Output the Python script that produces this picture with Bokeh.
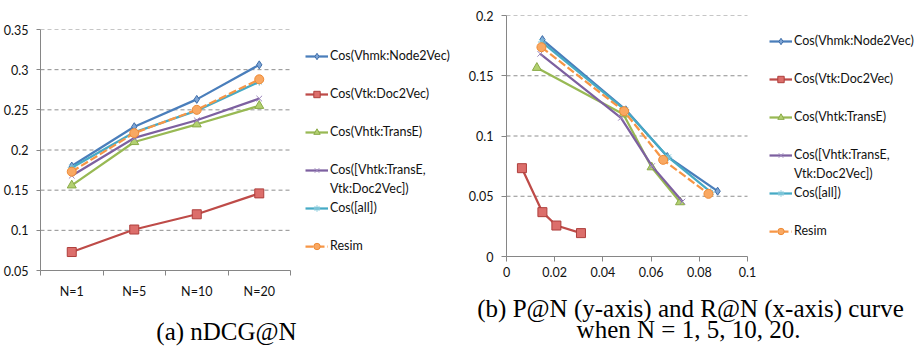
from bokeh.plotting import figure
from bokeh.models import Range1d, FixedTicker, Legend, LegendItem, Label
from bokeh.layouts import row, column
from bokeh.embed import file_html
from bokeh.resources import INLINE

# ---------------- data ----------------
categories = ["N=1", "N=5", "N=10", "N=20"]
series_names = ["Cos(Vhmk:Node2Vec)", "Cos(Vtk:Doc2Vec)", "Cos(Vhtk:TransE)",
                "Cos([Vhtk:TransE,\nVtk:Doc2Vec])", "Cos([all])", "Resim"]

ndcg_node2vec = [0.180, 0.229, 0.263, 0.306]
ndcg_doc2vec = [0.073, 0.101, 0.120, 0.146]
ndcg_transe = [0.156, 0.210, 0.232, 0.255]
ndcg_combo = [0.168, 0.215, 0.237, 0.264]
ndcg_all = [0.178, 0.222, 0.249, 0.285]
ndcg_resim = [0.173, 0.221, 0.250, 0.288]

recall_node2vec = [0.0149, 0.0495, 0.0667, 0.0876]
prec_node2vec = [0.1800, 0.1217, 0.0830, 0.0542]
recall_doc2vec = [0.0064, 0.0149, 0.0207, 0.0309]
prec_doc2vec = [0.0733, 0.0368, 0.0257, 0.0194]
recall_transe = [0.0126, 0.0485, 0.0602, 0.0720]
prec_transe = [0.1566, 0.1180, 0.0741, 0.0451]
recall_combo = [0.0140, 0.0475, 0.0604, 0.0730]
prec_combo = [0.1682, 0.1151, 0.0750, 0.0456]
recall_all = [0.0147, 0.0493, 0.0671, 0.0848]
prec_all = [0.1780, 0.1215, 0.0824, 0.0534]
recall_resim = [0.0145, 0.0488, 0.0650, 0.0838]
prec_resim = [0.1737, 0.1206, 0.0802, 0.0520]

ndcg_ticks = [0.05, 0.1, 0.15, 0.2, 0.25, 0.3, 0.35]
ndcg_tick_labels = ["0.05", "0.1", "0.15", "0.2", "0.25", "0.3", "0.35"]
p_ticks = [0, 0.05, 0.1, 0.15, 0.2]
p_tick_labels = ["0", "0.05", "0.1", "0.15", "0.2"]
r_ticks = [0, 0.02, 0.04, 0.06, 0.08, 0.1]
r_tick_labels = ["0", "0.02", "0.04", "0.06", "0.08", "0.1"]

caption_a = "(a) nDCG@N"
caption_b1 = "(b) P@N (y-axis) and R@N (x-axis) curve"
caption_b2 = "when N = 1, 5, 10, 20."

# ---------------- layout / styles ----------------
FONT = "Lato"
SERIF = "Liberation Serif"
AXIS_GREY = "#868686"
GRID_GREY = "#8E8E8E"
PLOT_W_A = 250      # width of the charted area of (a), px
PLOT_W_B = 241      # width of the charted area of (b), px
FRAME_W_A = 425     # frame incl. legend area
FRAME_W_B = 408
FRAME_H = 241
STYLES = [
    dict(color="#4A7EBB", marker="diamond", size=8, fill="#7EA5D6", mline="#3E6DA8", dash="solid"),
    dict(color="#BE4B48", marker="square", size=9, fill="#DC6E6B", mline="#AE3F3C", dash="solid"),
    dict(color="#98B954", marker="triangle", size=9, fill="#B2D070", mline="#8AAA48", dash="solid"),
    dict(color="#7D60A0", marker="x", size=8, fill="#9C86BC", mline="#9C86BC", dash="solid"),
    dict(color="#46AAC5", marker="asterisk", size=8, fill="#79C4D8", mline="#79C4D8", dash="solid"),
    dict(color="#F79646", marker="circle", size=9, fill="#F9A862", mline="#EE8B36", dash="8 3"),
]


def style_axis(ax, tick_out=5, standoff=8):
    ax.axis_line_color = AXIS_GREY
    ax.axis_line_width = 1
    ax.major_tick_line_color = AXIS_GREY
    ax.major_tick_in = 0
    ax.major_tick_out = tick_out
    ax.minor_tick_line_color = None
    ax.major_label_text_font = FONT
    ax.major_label_text_font_size = "12.5px"
    ax.major_label_text_color = "#111111"
    ax.major_label_standoff = standoff


def style_fig(p, ticks, x_end):
    p.outline_line_color = None
    p.xgrid.visible = False
    p.ygrid.visible = False
    p.background_fill_color = "white"
    p.border_fill_color = "white"
    # dashed horizontal gridlines over the charted area only
    gy = ticks[1:]
    p.segment(x0=[p.x_range.start] * len(gy), y0=gy, x1=[x_end] * len(gy), y1=gy,
              line_color=GRID_GREY, line_dash="4 3", line_width=1)


def add_series(p, xs_list, ys_list):
    """Draw every series and build legend rows (one text line per row, blank rows between)."""
    items = []
    blank = p.line([], [], line_alpha=0)  # invisible stand-in for text-only legend rows
    for k, (name, xs, ys, st) in enumerate(zip(series_names, xs_list, ys_list, STYLES)):
        lr = p.line(xs, ys, line_color=st["color"], line_width=2.25, line_dash=st["dash"])
        sr = p.scatter(xs, ys, marker=st["marker"], size=st["size"], fill_color=st["fill"],
                       line_color=st["mline"], line_width=1)
        lines = name.split("\n")
        items.append(LegendItem(label=lines[0], renderers=[lr, sr]))
        for extra in lines[1:]:
            items.append(LegendItem(label=extra, renderers=[blank]))
        if len(lines) == 1 and k < len(series_names) - 1:
            items.append(LegendItem(label=" ", renderers=[blank]))
    return items


def make_legend(items, loc):
    return Legend(items=items, location=loc, margin=0, padding=0, spacing=0,
                  label_height=19, glyph_width=23, glyph_height=16, label_standoff=2,
                  border_line_color=None, background_fill_alpha=0,
                  label_text_font=FONT, label_text_font_size="12.5px",
                  label_text_color="#111111")


def caption_fig(width, height, specs):
    c = figure(width=width, height=height, x_axis_type=None, y_axis_type=None,
               output_backend="svg", toolbar_location=None, min_border=0,
               min_border_left=0, min_border_right=0, min_border_top=0, min_border_bottom=0)
    c.outline_line_color = None
    c.grid.visible = False
    c.background_fill_color = "white"
    c.border_fill_color = "white"
    for text, x, y in specs:
        c.add_layout(Label(x=x, y=y, x_units="screen", y_units="screen", text=text,
                           text_align="center", text_baseline="middle", text_font=SERIF,
                           text_font_size="25px", text_color="#000000"))
    return c


# ---------------- (a) nDCG@N ----------------
n_cat = len(categories)
xs_cat = [i + 0.5 for i in range(n_cat)]
p1 = figure(frame_width=FRAME_W_A, frame_height=FRAME_H,
            x_range=Range1d(0, n_cat * FRAME_W_A / PLOT_W_A),
            y_range=Range1d(ndcg_ticks[0], ndcg_ticks[-1]),
            output_backend="svg", toolbar_location=None,
            min_border_left=37, min_border_right=0, min_border_top=29, min_border_bottom=30)
style_fig(p1, ndcg_ticks, n_cat)
style_axis(p1.yaxis[0], tick_out=4, standoff=8)
p1.yaxis.ticker = FixedTicker(ticks=ndcg_ticks)
p1.yaxis.major_label_overrides = dict(zip(ndcg_ticks, ndcg_tick_labels))
style_axis(p1.xaxis[0], tick_out=0, standoff=8)
p1.xaxis.bounds = (0, n_cat)
p1.xaxis.ticker = FixedTicker(ticks=xs_cat, minor_ticks=list(range(n_cat + 1)))
p1.xaxis.major_label_overrides = dict(zip(xs_cat, categories))
p1.xaxis.major_tick_line_color = None
p1.xaxis.minor_tick_line_color = AXIS_GREY
p1.xaxis.minor_tick_in = 0
p1.xaxis.minor_tick_out = 5

items1 = add_series(p1, [xs_cat] * 6,
                    [ndcg_node2vec, ndcg_doc2vec, ndcg_transe, ndcg_combo, ndcg_all, ndcg_resim])
p1.add_layout(make_legend(items1, (265, 15)))
# caption sits in its own row so its frame is not aligned to the chart's frame
cap1 = caption_fig(462, 45, [(caption_a, 226, 15)])

# ---------------- (b) P@N vs R@N ----------------
p2 = figure(frame_width=FRAME_W_B, frame_height=FRAME_H,
            x_range=Range1d(r_ticks[0], r_ticks[-1] * FRAME_W_B / PLOT_W_B),
            y_range=Range1d(p_ticks[0], p_ticks[-1]),
            output_backend="svg", toolbar_location=None,
            min_border_left=37, min_border_right=0, min_border_top=15, min_border_bottom=30)
style_fig(p2, p_ticks, r_ticks[-1])
style_axis(p2.yaxis[0], tick_out=5, standoff=8)
p2.yaxis.ticker = FixedTicker(ticks=p_ticks)
p2.yaxis.major_label_overrides = dict(zip(p_ticks, p_tick_labels))
style_axis(p2.xaxis[0], tick_out=5, standoff=5)
p2.xaxis.bounds = (r_ticks[0], r_ticks[-1])
p2.xaxis.ticker = FixedTicker(ticks=r_ticks)
p2.xaxis.major_label_overrides = dict(zip(r_ticks, r_tick_labels))

items2 = add_series(p2,
                    [recall_node2vec, recall_doc2vec, recall_transe, recall_combo, recall_all, recall_resim],
                    [prec_node2vec, prec_doc2vec, prec_transe, prec_combo, prec_all, prec_resim])
p2.add_layout(make_legend(items2, (263, 16)))
cap2 = caption_fig(445, 59, [(caption_b1, 225, 37), (caption_b2, 223, 16)])

layout = row(column(p1, row(cap1)), column(p2, row(cap2)))
open("out.html", "w").write(file_html(layout, INLINE))
